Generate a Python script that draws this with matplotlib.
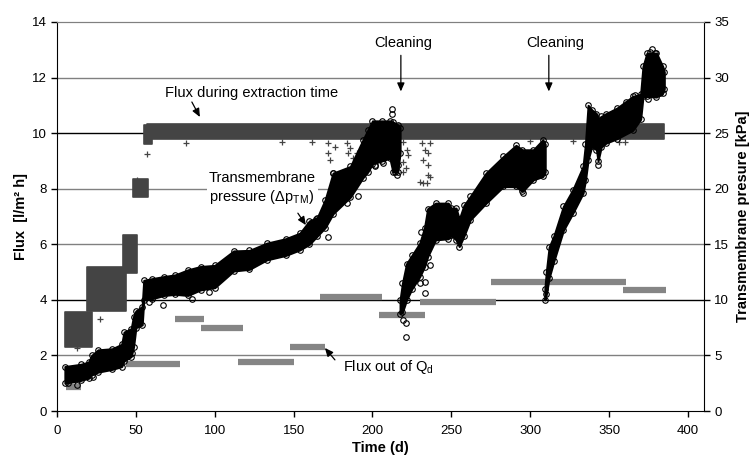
import matplotlib
matplotlib.use('Agg')
import matplotlib.pyplot as plt

plt.rcParams['font.family'] = ['Liberation Sans', 'DejaVu Sans']
plt.rcParams['mathtext.fontset'] = 'custom'
plt.rcParams['mathtext.rm'] = 'Liberation Sans'
plt.rcParams['mathtext.it'] = 'Liberation Sans:italic'
plt.rcParams['mathtext.bf'] = 'Liberation Sans:bold'

# flux during extraction time [l/m2 h] - dense "+" clouds, read as blocks
flux_block_start = [5, 19, 42, 48, 55, 57]
flux_block_end = [22, 44, 51, 58, 60, 385]
flux_block_low = [2.3, 3.6, 4.97, 7.7, 9.6, 9.78]
flux_block_high = [3.55, 5.2, 6.35, 8.35, 10.3, 10.32]

# scattered "+" points outside the clouds
flux_out_day = [12.5, 27.2, 50.5, 56.8, 81.5, 142.4, 161.4, 171.9, 171.9, 173,
                176.2, 183.6, 185.7, 184.7, 190, 192, 194.1, 187.9, 219.5, 221.6,
                222.6, 219.5, 221.2, 219.5, 231.1, 233.2, 235.3, 236.4, 232.2, 235.3,
                236.4, 230, 232.2, 234.3, 235.3, 300, 327, 356, 360]
flux_out_val = [2.26, 3.3, 8.31, 9.25, 9.64, 9.69, 9.69, 9.63, 9.27, 9.03,
                9.51, 9.63, 9.45, 9.27, 9.27, 9.09, 9.03, 9.09, 9.69, 9.39,
                9.21, 8.97, 8.73, 8.61, 9.63, 9.39, 9.27, 9.63, 9.03, 8.85,
                8.43, 8.25, 8.22, 8.22, 8.49, 9.7, 9.7, 9.68, 9.68]

# flux out of Qd [l/m2 h]
qd_start = [6, 44, 75, 91, 115, 148, 167, 204, 230, 275, 359]
qd_end = [15, 78, 93, 118, 150, 170, 206, 233, 278, 361, 386]
qd_level = [0.88, 1.7, 3.31, 3.0, 1.75, 2.32, 4.12, 3.44, 3.92, 4.65, 4.37]

# transmembrane pressure [kPa], three runs split by cleaning
tmp1_day = [5, 15, 20, 22, 26, 35, 41, 42.5, 47, 48.5, 50, 54, 55, 60, 68, 75, 83,
            91, 100, 112, 122, 133, 145, 154, 160, 165, 170, 175, 186, 194, 197,
            200, 206, 211, 213, 216, 217.5]
tmp1_low = [2.5, 2.75, 2.95, 3.25, 3.5, 3.75, 4.0, 4.5, 4.9, 5.75, 7.5, 7.75, 10.0,
            10.1, 10.4, 10.5, 10.4, 10.9, 11.1, 12.6, 12.75, 13.6, 14.0, 14.5, 15.0,
            15.75, 16.5, 17.75, 19.25, 21.0, 21.5, 22.25, 22.5, 22.75, 21.5, 21.5, 23.25]
tmp1_high = [4.0, 4.2, 4.4, 5.0, 5.5, 5.6, 6.0, 7.1, 7.4, 8.5, 9.0, 9.4, 11.75,
             11.9, 12.1, 12.25, 12.7, 13.0, 13.1, 14.4, 14.45, 15.1, 15.5, 16.0, 17.1,
             17.4, 19.0, 21.4, 22.0, 24.4, 25.25, 26.1, 26.1, 26.1, 26.0, 25.75, 25.5]

tmp2_day = [217.5, 219, 221.6, 225, 230, 233, 235, 240, 248, 250, 253, 255, 258,
            262, 272, 283, 291, 295, 302, 308, 309.5]
tmp2_low = [8.75, 8.9, 10.0, 11.0, 12.1, 13.0, 13.9, 15.4, 15.5, 15.8, 15.4, 14.8,
            15.75, 17.2, 18.7, 20.2, 20.2, 19.75, 20.8, 21.1, 21.5]
tmp2_high = [10.0, 11.5, 13.25, 14.0, 15.1, 16.5, 18.2, 18.7, 18.7, 18.25, 18.25,
             17.25, 18.5, 19.3, 21.4, 22.9, 23.9, 23.5, 23.5, 24.4, 24.0]

tmp3_day = [309.3, 310.2, 312, 315, 321, 327, 333.5, 335, 336.7, 339, 342, 343, 345,
            348, 355, 365, 370, 371.5, 374, 380, 384, 385]
tmp3_low = [10.0, 10.5, 12.0, 13.5, 16.25, 17.8, 19.6, 20.75, 22.6, 23.8, 23.5, 22.5,
            23.75, 24.1, 24.5, 25.25, 26.25, 28.3, 28.3, 28.25, 28.6, 29.0]
tmp3_high = [11.0, 12.5, 14.75, 15.75, 18.4, 19.9, 22.0, 24.0, 27.5, 27.1, 26.75,
             26.25, 26.5, 26.75, 27.25, 28.3, 28.5, 31.0, 32.2, 32.2, 31.0, 30.5]

# isolated circles
tmp_out_day = [7.2, 12.5, 23, 47.3, 58.5, 66.9, 85.3, 96.3, 175.1, 171.9, 164.5,
               183.6, 191, 201.5, 212.5, 212.5, 206.8, 201.5, 214.2, 215.3, 216.3,
               231, 230, 233.2, 233.2, 236.4, 219.5, 221.2, 221.2, 249.1, 295.5, 343,
               375.8, 379, 377, 382.1, 374.6, 366.3, 361]
tmp_out_kpa = [2.5, 2.35, 3.1, 5.2, 9.8, 9.5, 10.1, 10.7, 21.4, 15.7, 17.3,
               18.7, 19.3, 22.1, 27.2, 26.7, 22.3, 22.0, 21.5, 21.2, 22.1,
               16.1, 11.5, 10.6, 11.6, 13.1, 8.2, 7.9, 6.7, 15.8, 19.6, 22.1,
               32.3, 32.2, 32.6, 28.6, 28.1, 28.4, 27.8]

band_col = '#444444'
qd_col = '#858585'
grid_col = '#808080'

fig = plt.figure(figsize=(7.5, 4.58), dpi=100)
ax = fig.add_axes([0.076, 0.1026, 0.8623, 0.8494])
ax2 = ax.twinx()

# grid lines
for v in range(2, 14, 2):
    c = 'black' if v in (4, 10) else grid_col
    ax.axhline(v, color=c, lw=1.0, zorder=0)

# flux during extraction
for s, e, lo, hi in zip(flux_block_start, flux_block_end, flux_block_low, flux_block_high):
    ax.fill_between([s, e], lo, hi, color=band_col, lw=1.2, edgecolor=band_col, zorder=2)
ax.plot(flux_out_day, flux_out_val, '+', color=band_col, ms=5, mew=0.9, zorder=2)

# flux out of Qd
ax.hlines(qd_level, qd_start, qd_end, colors=qd_col, linewidth=4.5, zorder=3)

# transmembrane pressure
for d, lo, hi in [(tmp1_day, tmp1_low, tmp1_high),
                  (tmp2_day, tmp2_low, tmp2_high),
                  (tmp3_day, tmp3_low, tmp3_high)]:
    ax2.fill_between(d, lo, hi, color='black', lw=1.5, edgecolor='black')
    ax2.plot(d, lo, 'o', mfc='none', mec='black', ms=4, mew=0.8)
    ax2.plot(d, hi, 'o', mfc='none', mec='black', ms=4, mew=0.8)
ax2.plot(tmp_out_day, tmp_out_kpa, 'o', mfc='none', mec='black', ms=4, mew=0.8)

ax.set_xlim(0, 410)
ax.set_ylim(0, 14)
ax2.set_ylim(0, 35)
ax.set_xticks(range(0, 401, 50))
ax.set_yticks(range(0, 15, 2))
ax2.set_yticks(range(0, 36, 5))

for a in (ax, ax2):
    a.tick_params(direction='out', length=4, width=1, labelsize=9.5, colors='black')
    a.spines['top'].set_color(grid_col)
ax.tick_params(axis='x', pad=6)
ax.spines['right'].set_visible(False)
ax2.spines['left'].set_visible(False)
ax2.spines['bottom'].set_visible(False)

ax.set_xlabel('Time (d)', fontsize=10.5, fontweight='bold', labelpad=3)
ax.set_ylabel('Flux  [l/m² h]', fontsize=10.5, fontweight='bold', labelpad=3)
ax2.set_ylabel('Transmembrane presure [kPa]', fontsize=10.5, fontweight='bold', labelpad=5)

arrow = dict(arrowstyle='-|>,head_length=0.5,head_width=0.22', color='black', lw=0.9,
             shrinkA=0, shrinkB=0)
tr = ax.transData

ax2.text(219.3, 13.24, 'Cleaning', transform=tr, ha='center', va='center', fontsize=10.5)
ax2.annotate('', xy=(218, 11.5), xytext=(218, 12.8), xycoords=tr, textcoords=tr,
             arrowprops=arrow)
ax2.text(315.6, 13.24, 'Cleaning', transform=tr, ha='center', va='center', fontsize=10.5)
ax2.annotate('', xy=(311.8, 11.5), xytext=(311.8, 12.8), xycoords=tr, textcoords=tr,
             arrowprops=arrow)

ax2.text(123.6, 11.44, 'Flux during extraction time', transform=tr, ha='center',
         va='center', fontsize=10.5)
ax2.annotate('', xy=(90.6, 10.58), xytext=(85.5, 11.12), xycoords=tr, textcoords=tr,
             arrowprops=arrow)

ax2.text(96.3, 8.0, 'Transmembrane\npressure (Δp$_{\\rm TM}$)', transform=tr, ha='left',
         va='center', fontsize=10.5, linespacing=1.25,
         bbox=dict(fc='white', ec='none', pad=1.5))
ax2.annotate('', xy=(157.8, 6.69), xytext=(152.7, 7.12), xycoords=tr, textcoords=tr,
             arrowprops=arrow)

ax2.text(181.2, 1.58, 'Flux out of Q$_{\\rm d}$', transform=tr, ha='left', va='center',
         fontsize=10.5)
ax2.annotate('', xy=(169.8, 2.27), xytext=(176.2, 1.84), xycoords=tr, textcoords=tr,
             arrowprops=arrow)

fig.savefig('out.png', dpi=100)
